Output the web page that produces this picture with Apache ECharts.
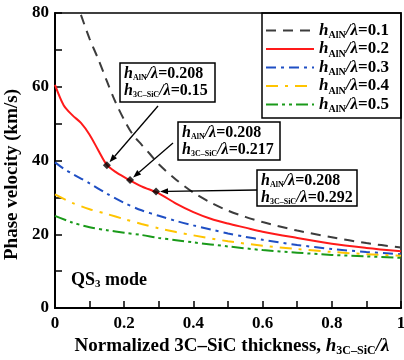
<!DOCTYPE html>
<html><head><meta charset="utf-8">
<script src="https://cdn.jsdelivr.net/npm/echarts@6/dist/echarts.min.js"></script>
<style>html,body{margin:0;padding:0;background:#fff}#c{width:404px;height:360px}</style>
</head><body><div id="c"></div>
<script>
// ---- data ----
const seriesNames = ['0.1', '0.2', '0.3', '0.4', '0.5'];
const x01 = [0.075,0.1,0.125,0.15,0.175,0.2,0.225,0.25,0.275,0.3,0.35,0.4,0.45,0.5,0.55,0.6,0.7,0.8,0.9,1.0];
const y01 = [79.5,73,67.5,61.5,55.8,51,47,44.3,41.7,39,34.8,31.3,28.6,26.4,24.7,23.3,21,19.2,17.6,16.4];
const x02 = [0,0.025,0.05,0.075,0.1,0.125,0.15,0.175,0.2,0.25,0.3,0.35,0.4,0.45,0.5,0.55,0.6,0.7,0.8,0.9,1.0];
const y02 = [60.5,55,52.3,50.2,47,42.8,38.8,36.9,35.5,33,31.1,28.3,26,24.2,22.9,21.8,20.7,19,17.4,16.3,15.4];
const x03 = [0,0.025,0.05,0.1,0.15,0.2,0.25,0.3,0.35,0.4,0.45,0.5,0.55,0.6,0.7,0.8,0.9,1.0];
const y03 = [39.5,37.8,36.4,33.8,31,28.5,26.5,25,23.6,22.4,21.3,20.2,19.3,18.5,17.1,16,15.2,14.6];
const x04 = [0,0.05,0.1,0.15,0.2,0.25,0.3,0.35,0.4,0.5,0.6,0.7,0.8,0.9,1.0];
const y04 = [30.8,28.5,26.8,25.5,24.1,22.8,21.6,20.6,19.7,18.1,16.9,16,15.2,14.6,14.2];
const x05 = [0,0.05,0.1,0.15,0.2,0.25,0.3,0.35,0.4,0.5,0.6,0.7,0.8,0.9,1.0];
const y05 = [25,23.2,21.9,21.1,20.4,19.8,19,18.4,17.8,16.7,15.7,15,14.4,14,13.6];
const annotX = [0.15, 0.217, 0.292];
const annotY = [38.7, 34.7, 31.6];
const annotAlN = ['0.208', '0.208', '0.208'];
const annotSiC = ['0.15', '0.217', '0.292'];
const yTicks = [0, 20, 40, 60, 80];
const xTicks = ['0', '0.2', '0.4', '0.6', '0.8', '1'];

const FONT = '"Liberation Serif", "Times New Roman", serif';
const colors = ['#3c3c3c', '#ff1a1a', '#1f4fc4', '#ffc400', '#1a9a1a'];
const dashes = [[10,7], 'solid', [10,5,3,5], [12,7,3,7], [12,4,3,4,3,4]];
const xs = [x01, x02, x03, x04, x05];
const ys = [y01, y02, y03, y04, y05];

function rich(fs, sub, lh) {
  return {
    i: {fontFamily: FONT, fontStyle: 'italic', fontWeight: 'bold', fontSize: fs, lineHeight: lh, color: '#000'},
    s: {fontFamily: FONT, fontWeight: 'bold', fontSize: sub, lineHeight: sub + 1, verticalAlign: 'bottom', color: '#000'},
    b: {fontFamily: FONT, fontWeight: 'bold', fontSize: fs, lineHeight: lh, color: '#000'}
  };
}

const series = seriesNames.map((n, k) => ({
  name: n,
  type: 'line',
  smooth: 0.3,
  symbol: 'none',
  data: xs[k].map((x, j) => [x, ys[k][j]]),
  lineStyle: {color: colors[k], width: 2, type: dashes[k]},
  itemStyle: {color: colors[k]},
  z: 2
}));
series.push({
  name: 'pts', type: 'scatter', symbol: 'diamond', symbolSize: 8,
  itemStyle: {color: '#000'}, z: 5,
  data: annotX.map((x, j) => [x, annotY[j]])
});

const chart = echarts.init(document.getElementById('c'), null, {renderer: 'canvas'});
const GL = 55, GR = 3, GT = 13, GB = 52;
chart.setOption({
  animation: false,
  grid: {left: GL, right: GR, top: GT, bottom: GB, containLabel: false, outerBoundsMode: 'none',
    show: true, borderColor: '#000', borderWidth: 1.5, backgroundColor: 'transparent'},
  legend: {
    data: seriesNames, orient: 'vertical', left: 265, top: 22,
    itemWidth: 48, itemHeight: 14, itemGap: 0, padding: 0,
    itemStyle: {opacity: 0},
    formatter: n => '{i|h}{s|AlN}{i|/λ}{b|=' + n + '}',
    textStyle: {rich: rich(17, 10, 20), fontFamily: FONT, fontWeight: 'bold', fontSize: 17}
  },
  xAxis: {
    type: 'value', min: 0, max: 1, interval: 0.1,
    axisLine: {lineStyle: {color: '#000', width: 2}},
    axisTick: {inside: true, length: 7, lineStyle: {color: '#000', width: 1.5}},
    splitLine: {show: false},
    axisLabel: {
      margin: 7, color: '#000', fontFamily: FONT, fontWeight: 'bold', fontSize: 17,
      formatter: v => { const k = Math.round(v * 10); return k % 2 === 0 ? xTicks[k / 2] : ''; }
    },
    name: '{b|Normalized 3C–SiC thickness, }{i|h}{s|3C–SiC}{i|/λ}',
    nameLocation: 'middle', nameGap: 27,
    nameTextStyle: {rich: rich(19, 12, 21), padding: [0, 0, 0, 8]}
  },
  yAxis: {
    type: 'value', min: 0, max: 80, interval: 10,
    axisLine: {lineStyle: {color: '#000', width: 2}},
    axisTick: {inside: true, length: 7, lineStyle: {color: '#000', width: 1.5}},
    splitLine: {show: false},
    axisLabel: {
      margin: 6, color: '#000', fontFamily: FONT, fontWeight: 'bold', fontSize: 17,
      formatter: v => yTicks.indexOf(v) >= 0 ? String(v) : ''
    },
    name: 'Phase velocity (km/s)', nameLocation: 'middle', nameGap: 26,
    nameTextStyle: {color: '#000', fontFamily: FONT, fontWeight: 'bold', fontSize: 19, padding: [0, 28, 0, 0]}
  },
  series: series
});

// ---- annotations (boxes are layout; arrow targets come from data) ----
const boxes = [
  {x: 120, y: 63, w: 95, h: 39, from: [158, 106]},
  {x: 178, y: 122, w: 102, h: 38, from: [173, 143]},
  {x: 257, y: 170, w: 100, h: 36, from: [257, 190]}
];
const g = [];
// legend frame
g.push({type: 'rect', shape: {x: 262, y: GT, width: 404 - GR - 262, height: 105},
  style: {fill: null, stroke: '#000', lineWidth: 1.5}, z: 10});
boxes.forEach((b, k) => {
  const p = chart.convertToPixel({gridIndex: 0}, [annotX[k], annotY[k]]);
  const dx = p[0] - b.from[0], dy = p[1] - b.from[1];
  const L = Math.sqrt(dx * dx + dy * dy), ux = dx / L, uy = dy / L;
  const tip = [p[0] - ux * 4, p[1] - uy * 4];
  const hl = 8, hw = 3;
  const base = [tip[0] - ux * hl, tip[1] - uy * hl];
  g.push({type: 'line', shape: {x1: b.from[0], y1: b.from[1], x2: base[0], y2: base[1]},
    style: {stroke: '#000', lineWidth: 1.3}, z: 11});
  g.push({type: 'polygon', shape: {points: [tip, [base[0] - uy * hw, base[1] + ux * hw], [base[0] + uy * hw, base[1] - ux * hw]]},
    style: {fill: '#000'}, z: 11});
  g.push({type: 'rect', shape: {x: b.x, y: b.y, width: b.w, height: b.h},
    style: {fill: '#fff', stroke: '#000', lineWidth: 1.5}, z: 12});
  g.push({type: 'text', x: b.x + 4, y: b.y + 2, z: 13,
    style: {text: '{i|h}{s|AlN}{i|/λ}{b|=' + annotAlN[k] + '}\n{i|h}{s|3C–SiC}{i|/λ}{b|=' + annotSiC[k] + '}',
      rich: rich(16, 8, 17), fontFamily: FONT, fontSize: 16, fill: '#000'}});
});
g.push({type: 'text', x: 71, y: 270, z: 13,
  style: {text: '{b|QS}{s|3}{b| mode}', fontFamily: FONT, fill: '#000', rich: rich(18, 11, 20)}});
chart.setOption({graphic: g});
</script>
</body></html>
